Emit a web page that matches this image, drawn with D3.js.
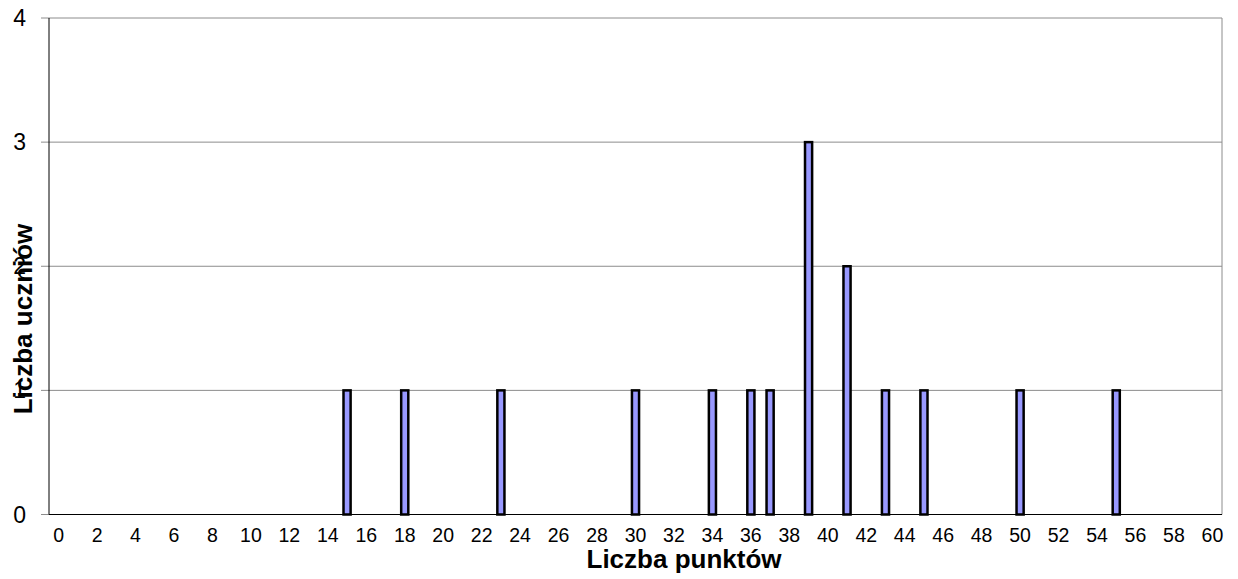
<!DOCTYPE html>
<html>
<head>
<meta charset="utf-8">
<script src="https://cdn.jsdelivr.net/npm/d3@7"></script>
<style>
  body { margin: 0; background: #fff; }
  svg { display: block; font-family: 'Liberation Sans', Arial, sans-serif; }
</style>
</head>
<body>
<div id="chart"></div>
<script>
// points 0..60, students per score
const points = d3.range(0, 61)
const scored = [15, 18, 23, 30, 34, 36, 37, 39, 41, 43, 45, 50, 55]
const students = [1, 1, 1, 1, 1, 1, 1, 3, 2, 1, 1, 1, 1]
const yTicks = [0, 1, 2, 3, 4]
const xTickLabels = d3.range(0, 61, 2)

const width = 1238
const height = 579
const margin = { top: 18, right: 16, bottom: 64.5, left: 49 }
const innerWidth = width - margin.left - margin.right
const innerHeight = height - margin.top - margin.bottom

const data = scored.map((p, i) => ({ p, n: students[i] }))

const svg = d3.select('#chart')
  .append('svg')
  .attr('width', width)
  .attr('height', height)

const g = svg.append('g')
  .attr('transform', `translate(${margin.left}, ${margin.top})`)

const x = d3.scaleBand()
  .domain(points)
  .range([0, innerWidth])
  .paddingInner(0.63)
  .paddingOuter(0.315)

const y = d3.scaleLinear()
  .domain([0, 4])
  .range([innerHeight, 0])

// gridlines
g.append('g')
  .selectAll('line')
  .data(yTicks.filter(d => d > 0))
  .join('line')
  .attr('x1', -8)
  .attr('x2', innerWidth)
  .attr('y1', d => y(d))
  .attr('y2', d => y(d))
  .attr('stroke', '#8c8c8c')
  .attr('stroke-width', 1)

// tick at 0
g.append('line')
  .attr('x1', -8).attr('x2', 0)
  .attr('y1', innerHeight).attr('y2', innerHeight)
  .attr('stroke', '#8c8c8c')

// plot border right
g.append('line')
  .attr('x1', innerWidth).attr('x2', innerWidth)
  .attr('y1', 0).attr('y2', innerHeight)
  .attr('stroke', '#8c8c8c')

// bars
g.selectAll('rect.bar')
  .data(data)
  .join('rect')
  .attr('class', 'bar')
  .attr('x', d => x(d.p))
  .attr('y', d => y(d.n))
  .attr('width', x.bandwidth())
  .attr('height', d => innerHeight - y(d.n))
  .attr('fill', '#9999ff')
  .attr('stroke', '#000')
  .attr('stroke-width', 2.5)

// axes lines
g.append('line')
  .attr('x1', 0).attr('x2', 0)
  .attr('y1', 0).attr('y2', innerHeight)
  .attr('stroke', '#000')
g.append('line')
  .attr('x1', 0).attr('x2', innerWidth)
  .attr('y1', innerHeight).attr('y2', innerHeight)
  .attr('stroke', '#000')

// y labels
g.append('g')
  .selectAll('text')
  .data(yTicks)
  .join('text')
  .attr('x', -23)
  .attr('y', d => y(d))
  .attr('dy', '0.35em')
  .attr('text-anchor', 'end')
  .style('font-size', '23px')
  .text(d => d)

// x labels
g.append('g')
  .selectAll('text')
  .data(xTickLabels)
  .join('text')
  .attr('x', d => x(d) + x.bandwidth() / 2)
  .attr('y', innerHeight + 27)
  .attr('text-anchor', 'middle')
  .style('font-size', '19.5px')
  .text(d => d)

// axis titles
svg.append('text')
  .attr('x', 684)
  .attr('y', 568)
  .attr('text-anchor', 'middle')
  .style('font-size', '26px')
  .style('font-weight', 'bold')
  .text('Liczba punktów')

svg.append('text')
  .attr('transform', `translate(32, 319) rotate(-90)`)
  .attr('text-anchor', 'middle')
  .style('font-size', '26px')
  .style('font-weight', 'bold')
  .text('Liczba uczniów')
</script>
</body>
</html>
